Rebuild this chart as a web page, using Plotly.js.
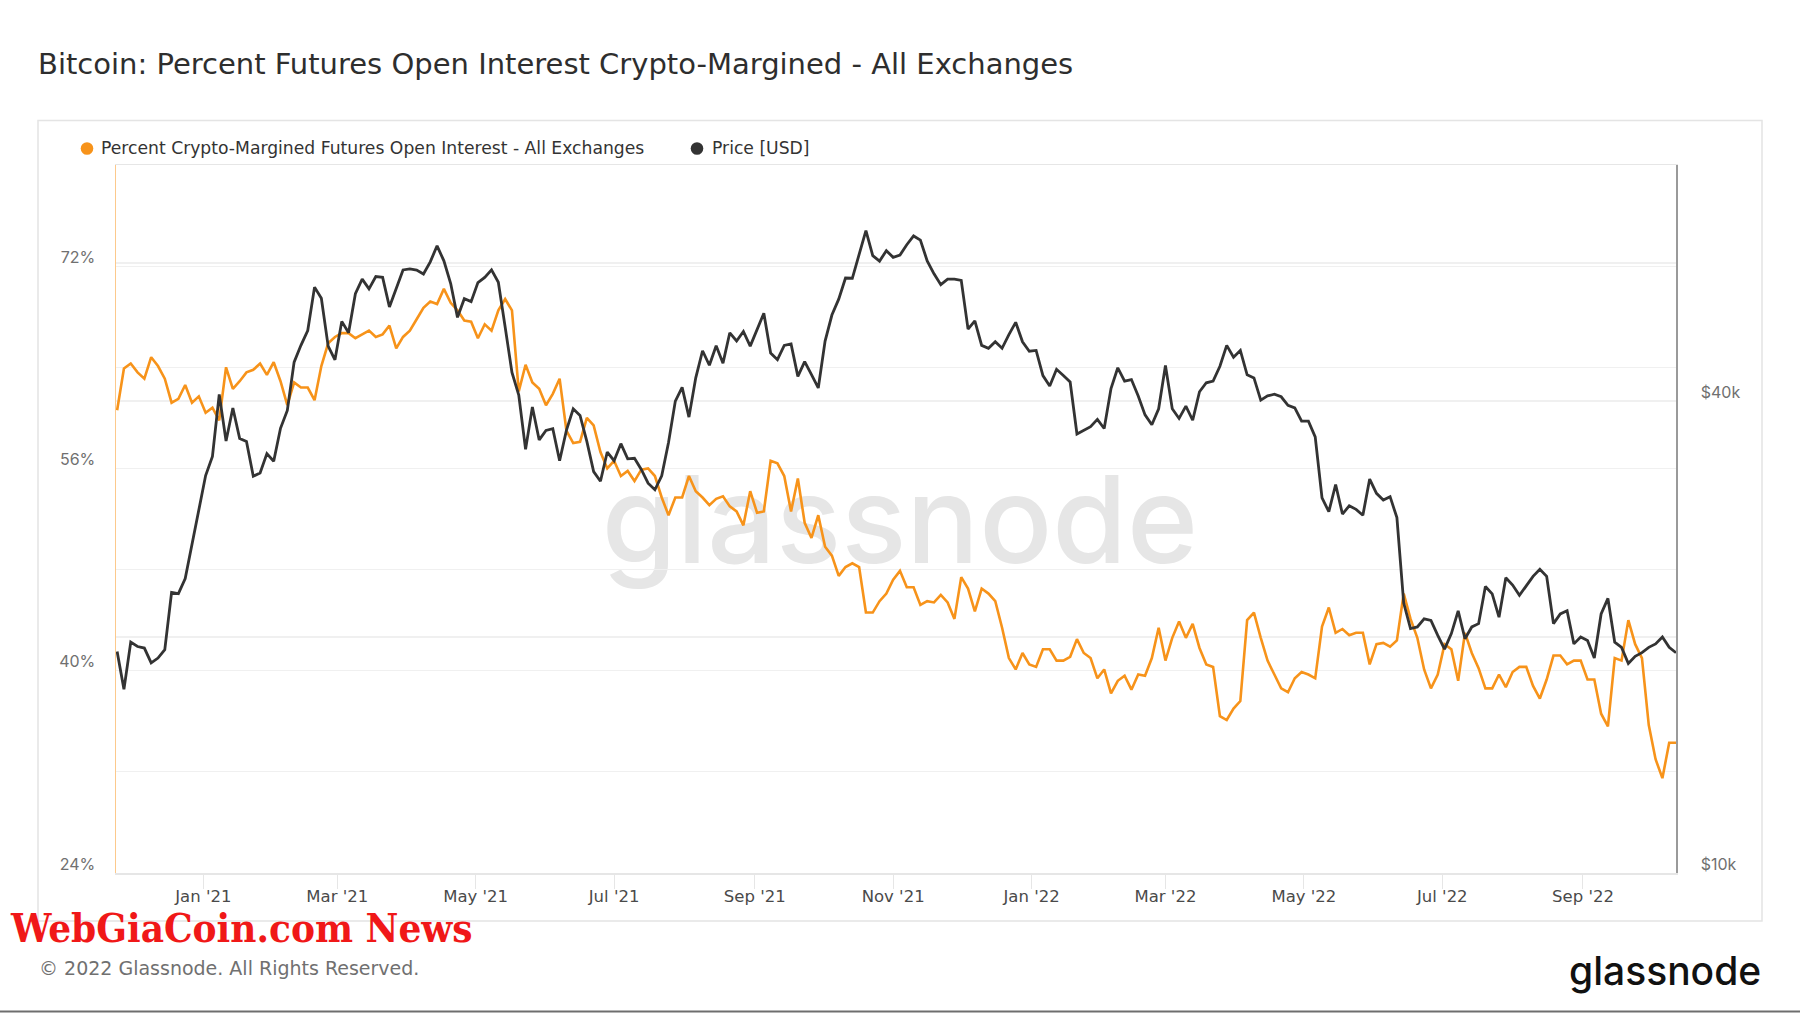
<!DOCTYPE html>
<html>
<head>
<meta charset="utf-8">
<script src="https://cdn.plot.ly/plotly-3.0.1.min.js"></script>
<style>
  html, body { margin: 0; padding: 0; background: #ffffff; }
  #chart { width: 1800px; height: 1013px; }
</style>
</head>
<body>
<div id="chart"></div>
<script>
// ---- Data (sampled every 3 days, starting 2020-11-24) ----
const startDate = '2020-11-24';
const stepDays = 3;

// Percent Crypto-Margined Futures Open Interest - All Exchanges (%)
const pctCryptoMargined = [
  60.6, 63.9, 64.3, 63.6, 63.1, 64.8, 64.1, 63.1, 61.2, 61.5,
  62.6, 61.2, 61.7, 60.4, 60.8, 59.8, 64.0, 62.3, 62.9, 63.6,
  63.8, 64.3, 63.4, 64.4, 62.9, 61.0, 62.8, 62.4, 62.4, 61.4,
  64.1, 65.9, 66.4, 66.7, 66.7, 66.3, 66.6, 66.9, 66.4, 66.6,
  67.3, 65.5, 66.4, 66.9, 67.8, 68.7, 69.2, 69.0, 70.2, 69.1,
  68.5, 67.7, 67.6, 66.3, 67.4, 66.9, 68.5, 69.4,
  68.5, 62.1, 64.2, 62.8, 62.3, 61.0, 61.9, 63.1, 59.0, 58.0,
  58.1, 60.0, 59.4, 57.3, 56.0, 56.6, 55.4, 55.8, 55.0, 55.9,
  56.0, 55.4, 53.7, 52.3, 53.7, 53.7, 55.4, 54.2, 53.7, 53.1,
  53.6, 53.8, 53.0, 52.6, 51.5, 54.2, 52.5, 52.6, 56.6, 56.4,
  55.4, 52.6, 55.2, 51.7, 50.5, 52.3, 49.8, 49.1, 47.5, 48.2,
  48.5, 48.2, 44.6, 44.6, 45.5, 46.1, 47.2,
  47.9, 46.6, 46.6, 45.2, 45.5, 45.4, 46.0, 45.4, 44.1, 47.4,
  46.5, 44.7, 46.5, 46.1, 45.5, 43.4, 41.0, 40.1, 41.4, 40.5,
  40.3, 41.7, 41.7, 40.8, 40.8, 41.1, 42.5, 41.4, 41.0, 39.4,
  40.1, 38.2, 39.2, 39.6, 38.5, 39.7, 39.6, 41.0, 43.4, 40.8,
  42.6, 43.9, 42.6, 43.7, 41.8, 40.5, 40.3, 36.4, 36.1, 37.0,
  37.6, 44.0, 44.6, 42.6, 40.8, 39.7, 38.6,
  38.3, 39.4, 39.9, 39.7, 39.4, 43.5, 45.0, 43.0, 43.3, 42.8,
  43.0, 43.0, 40.5, 42.1, 42.2, 41.9, 42.4, 46.1, 44.1, 42.6,
  40.1, 38.6, 39.7, 42.1, 41.7, 39.2, 43.0, 41.4, 40.2, 38.6,
  38.6, 39.7, 38.7, 39.9, 40.3, 40.3, 38.8, 37.8, 39.3, 41.2,
  41.2, 40.5, 40.8, 40.8, 39.3, 39.3, 36.6, 35.6, 41.0, 40.8,
  44.0, 42.1, 41.0, 35.7, 33.0, 31.5, 34.3, 34.3
];

// Price [USD]
const priceUSD = [
  19160, 17150, 19700, 19450, 19360, 18540, 18800, 19270, 22800, 22720,
  23740, 26270, 28840, 32130, 33990, 40780, 35570, 39190, 35830, 35510,
  32070, 32370, 34270, 33510, 36920, 38900, 44840, 47110, 49200, 55890,
  54090, 46990, 45140, 50540, 48880, 54820, 57220, 55600, 57640, 57520,
  52730, 55820, 58780, 58950, 58760, 58080, 60200, 63100, 60370, 56470,
  51140, 54020, 53560, 56630, 57500, 58800, 56700, 49700, 43500, 40700,
  34700, 39300, 35680, 36690, 36870, 33560, 36700, 39100, 38340, 35520,
  32510, 31600, 34430, 33570, 35290, 33750, 33810, 32720, 31420, 30820,
  32110, 35410, 39990, 41630, 38150, 42820, 46360, 44430, 47050, 44700,
  48870, 47710, 49070, 46990, 49300, 51750, 46060, 45160, 47100, 47290,
  43000, 44900, 43210, 41560, 47690, 51490, 53950, 57400, 57360, 61550,
  65990, 61310, 60330, 62200, 61000, 61400, 63300, 64950, 64160, 60370,
  58120, 56290, 57200, 57200, 57000, 49400, 50600, 47100, 46700, 47600,
  46700, 48600, 50400, 47600, 46300, 46400, 43100, 41800, 43900, 43100,
  42300, 36300, 36700, 37100, 37900, 36900, 41500, 44100, 42400, 42600,
  40600, 38400, 37300, 39100, 44400, 39100, 38000, 39400, 37800, 41100,
  42200, 42400, 44300, 47100, 45500, 46400, 43200, 42800, 40100, 40600,
  40800, 40500, 39500, 39200, 37700, 37700, 36000, 30100, 28900, 31300,
  28700, 29400, 29100, 28600, 31800, 30500, 29900, 30200, 28400, 22100,
  20500, 20600, 21100, 21000, 20100, 19300, 20200, 21600, 19900, 20600,
  20800, 23200, 22700, 21200, 23800, 23300, 22600, 23200, 23900, 24400,
  23900, 20800, 21400, 21600, 19600, 20000, 19800, 18800, 21400, 22400,
  19700, 19400, 18500, 18900, 19100, 19400, 19600, 20000, 19400, 19100
];

const leftTickVals = [24, 32, 40, 48, 56, 64, 72];
const leftTickText = ['24%', '', '40%', '', '56%', '', '72%'];
const rightTickVals = [10000, 20000, 40000, 60000];
const rightTickText = ['$10k', '', '$40k', ''];

const seriesNames = ['Percent Crypto-Margined Futures Open Interest - All Exchanges', 'Price [USD]'];
const titleText = 'Bitcoin: Percent Futures Open Interest Crypto-Margined - All Exchanges';

// ---- Build dates ----
const t0 = Date.parse(startDate + 'T00:00:00Z');
const dates = pctCryptoMargined.map((_, i) =>
  new Date(t0 + i * stepDays * 86400000).toISOString().slice(0, 10));

// ---- Geometry helpers (pixel -> paper) ----
const PL = 116, PR = 1676, PT = 165, PB = 873;
const PW = PR - PL, PH = PB - PT;
const X = px => (px - PL) / PW;
const Y = py => (PB - py) / PH;

const ORANGE = '#f7931a';
const DARK = '#333333';
const FONT = 'Inter, "Open Sans", sans-serif';
const WIDEFONT = '"DejaVu Sans", Verdana, sans-serif';

const traces = [
  {
    x: dates, y: pctCryptoMargined, type: 'scatter', mode: 'lines',
    name: seriesNames[0], yaxis: 'y',
    line: { color: ORANGE, width: 2.6 }, showlegend: false, hoverinfo: 'skip'
  },
  {
    x: dates, y: priceUSD, type: 'scatter', mode: 'lines',
    name: seriesNames[1], yaxis: 'y2',
    line: { color: DARK, width: 2.8 }, showlegend: false, hoverinfo: 'skip'
  }
];

const layout = {
  width: 1800, height: 1013, autosize: false,
  margin: { l: PL, r: 1800 - PR, t: PT, b: 1013 - PB, pad: 0 },
  paper_bgcolor: '#ffffff', plot_bgcolor: '#ffffff',
  showlegend: false,
  title: {
    text: titleText,
    x: 38 / 1800, xref: 'container', xanchor: 'left',
    y: 1 - 64 / 1013, yref: 'container', yanchor: 'middle',
    font: { family: WIDEFONT, size: 29, color: '#2e2e2e' }
  },
  xaxis: {
    type: 'date',
    range: ['2020-11-23 12:00', '2022-10-12'],
    tickmode: 'linear', tick0: '2021-01-01', dtick: 'M2',
    tickformat: "%b '%y",
    ticks: 'outside', ticklen: 14, tickcolor: '#e6e6e6', tickwidth: 1,
    ticklabelstandoff: -6,
    showgrid: false, zeroline: false,
    showline: true, linecolor: '#e6e6e6', linewidth: 1.5, mirror: true,
    tickfont: { family: WIDEFONT, size: 16.5, color: '#4a4a4a' }
  },
  yaxis: {
    range: [24, 80],
    tickmode: 'array', tickvals: leftTickVals, ticktext: leftTickText,
    ticks: '', ticklabelposition: 'outside', ticklabelshift: -9, ticklabelstandoff: 16,
    showgrid: true, gridcolor: '#f0f0f0', gridwidth: 1.2,
    zeroline: false,
    showline: true, linecolor: '#fcc98c', linewidth: 1.5,
    tickfont: { family: FONT, size: 16, color: '#707070' }
  },
  yaxis2: {
    type: 'log', overlaying: 'y', side: 'right',
    range: [4, Math.log10(80000)],
    tickmode: 'array', tickvals: rightTickVals, ticktext: rightTickText,
    ticks: '', ticklabelposition: 'outside', ticklabelshift: -9, ticklabelstandoff: 20,
    showgrid: true, gridcolor: '#f0f0f0', gridwidth: 1.2,
    zeroline: false,
    showline: true, linecolor: '#9a9a9a', linewidth: 1.5,
    tickfont: { family: FONT, size: 16, color: '#707070' }
  },
  shapes: [
    // outer card border
    { type: 'rect', xref: 'paper', yref: 'paper', layer: 'below',
      x0: X(38), x1: X(1762), y0: Y(921), y1: Y(120.5),
      line: { color: '#e4e4e4', width: 1.5 }, fillcolor: 'rgba(0,0,0,0)' },
    // bottom dark rule
    { type: 'line', xref: 'paper', yref: 'paper',
      x0: X(0), x1: X(1800), y0: Y(1011.5), y1: Y(1011.5),
      line: { color: '#6e6e6e', width: 2 } },
    // watermark (behind traces)
    { type: 'rect', xref: 'paper', yref: 'paper', layer: 'below',
      x0: X(600), x1: X(1200), y0: Y(592), y1: Y(437),
      line: { width: 0 }, fillcolor: 'rgba(0,0,0,0)',
      label: { text: 'glassnode', textposition: 'middle center',
               font: { family: FONT, size: 121, color: '#e6e6e6', weight: 500 } } },
    // legend dots
    { type: 'circle', xref: 'paper', yref: 'paper', xsizemode: 'pixel', ysizemode: 'pixel',
      xanchor: X(87), yanchor: Y(148.5), x0: -6.3, x1: 6.3, y0: -6.3, y1: 6.3,
      fillcolor: ORANGE, line: { width: 0 } },
    { type: 'circle', xref: 'paper', yref: 'paper', xsizemode: 'pixel', ysizemode: 'pixel',
      xanchor: X(697), yanchor: Y(148.5), x0: -6.3, x1: 6.3, y0: -6.3, y1: 6.3,
      fillcolor: DARK, line: { width: 0 } }
  ],
  annotations: [
    { text: seriesNames[0], xref: 'paper', yref: 'paper', x: X(99), y: Y(148),
      xanchor: 'left', yanchor: 'middle', showarrow: false,
      font: { family: WIDEFONT, size: 17.2, color: '#333333' } },
    { text: seriesNames[1], xref: 'paper', yref: 'paper', x: X(710), y: Y(148),
      xanchor: 'left', yanchor: 'middle', showarrow: false,
      font: { family: WIDEFONT, size: 17.2, color: '#333333' } },
    { text: '© 2022 Glassnode. All Rights Reserved.', xref: 'paper', yref: 'paper',
      x: X(37), y: Y(968), xanchor: 'left', yanchor: 'middle', showarrow: false,
      font: { family: WIDEFONT, size: 19, color: '#707070' } },
    { text: 'glassnode', xref: 'paper', yref: 'paper',
      x: X(1763), y: Y(970), xanchor: 'right', yanchor: 'middle', showarrow: false,
      font: { family: FONT, size: 39, color: '#111111', weight: 500 } },
    { text: '<b>WebGiaCoin.com News</b>', xref: 'paper', yref: 'paper',
      x: X(8), y: Y(927), xanchor: 'left', yanchor: 'middle', showarrow: false,
      font: { family: '"DejaVu Serif Condensed", "DejaVu Serif", serif', size: 40, color: '#f01818' } }
  ]
};

Plotly.newPlot('chart', traces, layout, { displayModeBar: false, staticPlot: true });
</script>
</body>
</html>
